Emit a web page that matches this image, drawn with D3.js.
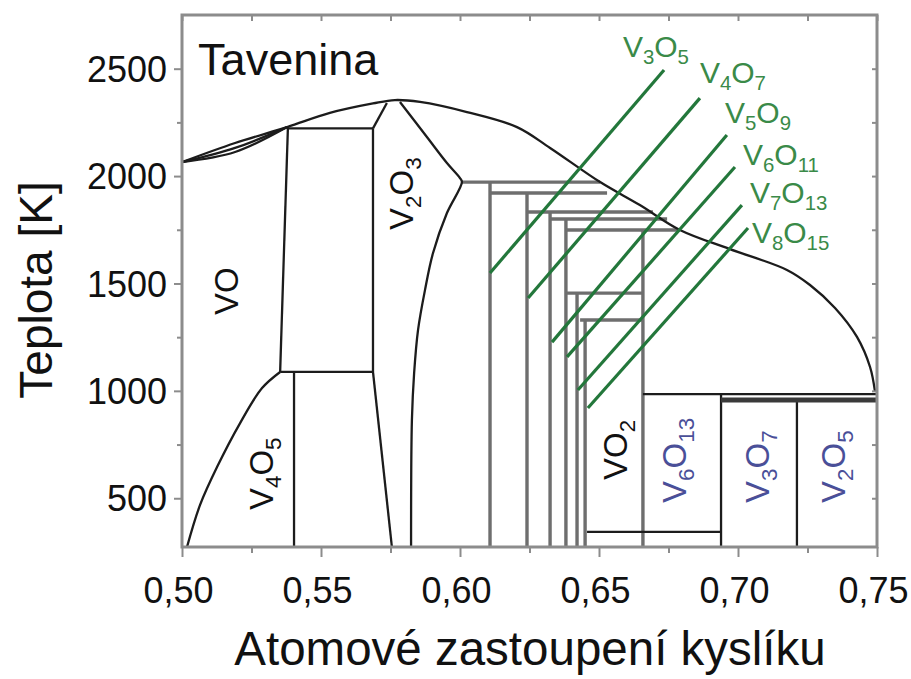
<!DOCTYPE html>
<html>
<head>
<meta charset="utf-8">
<script src="https://cdn.jsdelivr.net/npm/d3@7"></script>
<style>
  html, body { margin: 0; padding: 0; background: #fff; }
  text { font-family: "Liberation Sans", Arial, sans-serif; }
</style>
</head>
<body>
<script>
// ---------- data ----------
const xTicks = [0.50, 0.55, 0.60, 0.65, 0.70, 0.75];
const xMinorTicks = [0.525, 0.575, 0.625, 0.675, 0.725];
const yTicks = [500, 1000, 1500, 2000, 2500];
const yMinorTicks = [750, 1250, 1750, 2250];

// liquidus (composition, temperature K)
const liquidus = [[0.5000,2065],[0.5191,2154],[0.5378,2228],[0.5532,2294],[0.5687,2338],
  [0.5766,2354],[0.5856,2345],[0.6025,2298],[0.6205,2228],[0.6324,2131],[0.6504,1972],
  [0.6647,1865],[0.6791,1749],[0.6971,1660],[0.7176,1563],[0.7259,1493],[0.7349,1386],
  [0.7428,1251],[0.7475,1111],[0.7493,995]];
const lensMiddle = [[0.5000,2065],[0.5191,2131],[0.5378,2228]];
const lensLower  = [[0.5000,2065],[0.5191,2112],[0.5378,2228]];
// VO low-temperature boundary
const voCurve = [[0.5353,1088],[0.5288,1013],[0.5209,850],[0.5126,645],[0.5065,469],[0.5018,273]];
// V2O3 right boundary
const v2o3Right = [[0.5784,2345],[0.5881,2182],[0.5953,2061],[0.6000,1991],[0.6007,1972],
  [0.5953,1828],[0.5903,1642],[0.5874,1469],[0.5849,1283],[0.5835,1083],[0.5827,864],[0.5824,273]];
// straight black boundaries [[x1,T1],[x2,T2]]
const blackSegments = [
  [[0.5381,2228],[0.5353,1088]],
  [[0.5378,2222],[0.5687,2222]],
  [[0.5687,2222],[0.5687,1088]],
  [[0.5353,1088],[0.5687,1088]],
  [[0.5403,1088],[0.5403,273]],
  [[0.5687,1088],[0.5755,273]],
  [[0.5687,2222],[0.5737,2340]],
  [[0.6658,985],[0.7500,985]],
  [[0.6939,985],[0.6939,273]],
  [[0.7212,957],[0.7212,273]],
  [[0.6457,343],[0.6939,343]]
];
const thickSegments = [[[0.6939,957],[0.7500,957]]];
// Magneli phase grey lines
const greyHoriz = [[1972,0.6007,0.6504],[1921,0.6108,0.6529],[1833,0.6241,0.6694],
  [1800,0.6324,0.6745],[1749,0.6381,0.6791],[1455,0.6385,0.6658],[1330,0.6432,0.6658]];
const greyVert = [[0.6108,1972],[0.6241,1921],[0.6324,1833],[0.6381,1800],
  [0.6421,1455],[0.6450,1330],[0.6658,1749]];
// Magneli pointer lines [x1,T1,x2,T2]
const magneliLines = [[0.6108,1549,0.6734,2494],[0.6245,1432,0.6863,2363],[0.6331,1227,0.6960,2191],
  [0.6385,1158,0.6989,2042],[0.6424,1004,0.7014,1865],[0.6460,920,0.7036,1758]];
// labels: parts [text, isSubscript]
const magneliLabels = [
  {parts:[["V",0],["3",1],["O",0],["5",1]], x:0.6586, T:2554},
  {parts:[["V",0],["4",1],["O",0],["7",1]], x:0.6863, T:2433},
  {parts:[["V",0],["5",1],["O",0],["9",1]], x:0.6953, T:2247},
  {parts:[["V",0],["6",1],["O",0],["11",1]], x:0.7018, T:2051},
  {parts:[["V",0],["7",1],["O",0],["13",1]], x:0.7043, T:1874},
  {parts:[["V",0],["8",1],["O",0],["15",1]], x:0.7050, T:1688}
];
const phaseLabels = [
  {parts:[["VO",0]], x:0.5201, T:1353, blue:false},
  {parts:[["V",0],["4",1],["O",0],["5",1]], x:0.5327, T:445, blue:false},
  {parts:[["V",0],["2",1],["O",0],["3",1]], x:0.5831, T:1749, blue:false},
  {parts:[["VO",0],["2",1]], x:0.6600, T:585, blue:false},
  {parts:[["V",0],["6",1],["O",0],["13",1]], x:0.6813, T:478, blue:true},
  {parts:[["V",0],["3",1],["O",0],["7",1]], x:0.7111, T:478, blue:true},
  {parts:[["V",0],["2",1],["O",0],["5",1]], x:0.7385, T:478, blue:true}
];
const meltLabel = {text:"Tavenina", x:0.5058, T:2470};
const xTitle = "Atomové zastoupení kyslíku";
const yTitle = "Teplota [K]";

// ---------- drawing ----------
const W = 911, H = 679;
const svg = d3.select("body").append("svg").attr("width", W).attr("height", H);
svg.append("rect").attr("width", W).attr("height", H).attr("fill", "#fff");

const x = d3.scaleLinear().domain([0.5, 0.75]).range([182, 877]);
const y = d3.scaleLinear().domain([273, 2750]).range([547, 15]);

const frameColor = "#8c8c8c";
const black = "#1c1c1c";
const grey = "#6e6e6e";
const green = "#23773b";
const greenText = "#3a8a48";
const blue = "#4a4f98";

const line = d3.line().x(d => x(d[0])).y(d => y(d[1]));
const curved = d3.line().x(d => x(d[0])).y(d => y(d[1])).curve(d3.curveCatmullRom.alpha(0.5));

const g = svg.append("g");

// grey Magneli lines
greyVert.forEach(d => g.append("path").attr("d", line([[d[0], d[1]], [d[0], 273]]))
  .attr("stroke", grey).attr("stroke-width", 3.4).attr("fill", "none"));
greyHoriz.forEach(d => g.append("path").attr("d", line([[d[1], d[0]], [d[2], d[0]]]))
  .attr("stroke", grey).attr("stroke-width", 3.4).attr("fill", "none"));

// black curves
[liquidus, lensMiddle, lensLower, voCurve, v2o3Right].forEach(c =>
  g.append("path").attr("d", curved(c)).attr("stroke", black).attr("stroke-width", 2.3).attr("fill", "none"));
blackSegments.forEach(s => g.append("path").attr("d", line(s))
  .attr("stroke", black).attr("stroke-width", 2.3).attr("fill", "none"));
thickSegments.forEach(s => g.append("path").attr("d", line(s))
  .attr("stroke", "#3a3a3a").attr("stroke-width", 5).attr("fill", "none"));

// green pointer lines
magneliLines.forEach(d => g.append("path").attr("d", line([[d[0], d[1]], [d[2], d[3]]]))
  .attr("stroke", green).attr("stroke-width", 3.2).attr("fill", "none"));

// frame + axes
svg.append("rect").attr("x", x(0.5)).attr("y", y(2750)).attr("width", x(0.75) - x(0.5))
  .attr("height", y(273) - y(2750)).attr("fill", "none").attr("stroke", frameColor).attr("stroke-width", 3);

function styleAxis(sel) {
  sel.select(".domain").remove();
  sel.selectAll(".tick line").attr("stroke", frameColor).attr("stroke-width", 2);
}
const fmt = d => d.toFixed(2).replace(".", ",");
const xAxis = svg.append("g").attr("transform", `translate(0,${y(273)})`)
  .call(d3.axisBottom(x).tickValues(xTicks).tickSize(10).tickFormat(fmt)).call(styleAxis);
xAxis.selectAll("text").attr("y", 56).attr("dy", 0).attr("x", -4)
  .attr("font-size", 36).attr("fill", "#111").attr("font-family", "Liberation Sans, Arial, sans-serif");
svg.append("g").attr("transform", `translate(0,${y(273)})`)
  .call(d3.axisBottom(x).tickValues(xMinorTicks).tickSize(6).tickFormat("")).call(styleAxis);
svg.append("g").attr("transform", `translate(0,${y(2750)})`)
  .call(d3.axisBottom(x).tickValues(xTicks.concat(xMinorTicks)).tickSize(6).tickFormat("")).call(styleAxis);

const yAxis = svg.append("g").attr("transform", `translate(${x(0.5)},0)`)
  .call(d3.axisLeft(y).tickValues(yTicks).tickSize(8).tickPadding(7).tickFormat(d3.format("d"))).call(styleAxis);
yAxis.selectAll("text").attr("font-size", 36).attr("fill", "#111").attr("dy", "0.35em")
  .attr("font-family", "Liberation Sans, Arial, sans-serif");
svg.append("g").attr("transform", `translate(${x(0.5)},0)`)
  .call(d3.axisLeft(y).tickValues(yMinorTicks).tickSize(5).tickFormat("")).call(styleAxis);
svg.append("g").attr("transform", `translate(${x(0.75)},0)`)
  .call(d3.axisLeft(y).tickValues(yTicks.concat(yMinorTicks)).tickSize(5).tickFormat("")).call(styleAxis);

// labels with subscripts
function addParts(text, parts, fs) {
  const sub = fs * 0.68, shift = fs * 0.24;
  let shifted = false;
  parts.forEach(p => {
    const t = text.append("tspan").text(p[0]);
    if (p[1]) { t.attr("font-size", sub); if (!shifted) { t.attr("dy", shift); shifted = true; } }
    else { t.attr("font-size", fs); if (shifted) { t.attr("dy", -shift); shifted = false; } }
  });
}
magneliLabels.forEach(l => {
  const t = svg.append("text").attr("x", x(l.x)).attr("y", y(l.T)).attr("fill", greenText);
  addParts(t, l.parts, 30);
});
phaseLabels.forEach(l => {
  const t = svg.append("text").attr("transform", `translate(${x(l.x)},${y(l.T)}) rotate(-90)`)
    .attr("fill", l.blue ? blue : "#111");
  addParts(t, l.parts, 33);
});
svg.append("text").attr("x", x(meltLabel.x)).attr("y", y(meltLabel.T))
  .attr("font-size", 45).attr("fill", "#111").text(meltLabel.text);

svg.append("text").attr("x", 530).attr("y", 665).attr("text-anchor", "middle")
  .attr("font-size", 47.5).attr("fill", "#111").text(xTitle);
svg.append("text").attr("transform", "translate(52,290) rotate(-90)").attr("text-anchor", "middle")
  .attr("font-size", 46).attr("fill", "#111").text(yTitle);
</script>
</body>
</html>
